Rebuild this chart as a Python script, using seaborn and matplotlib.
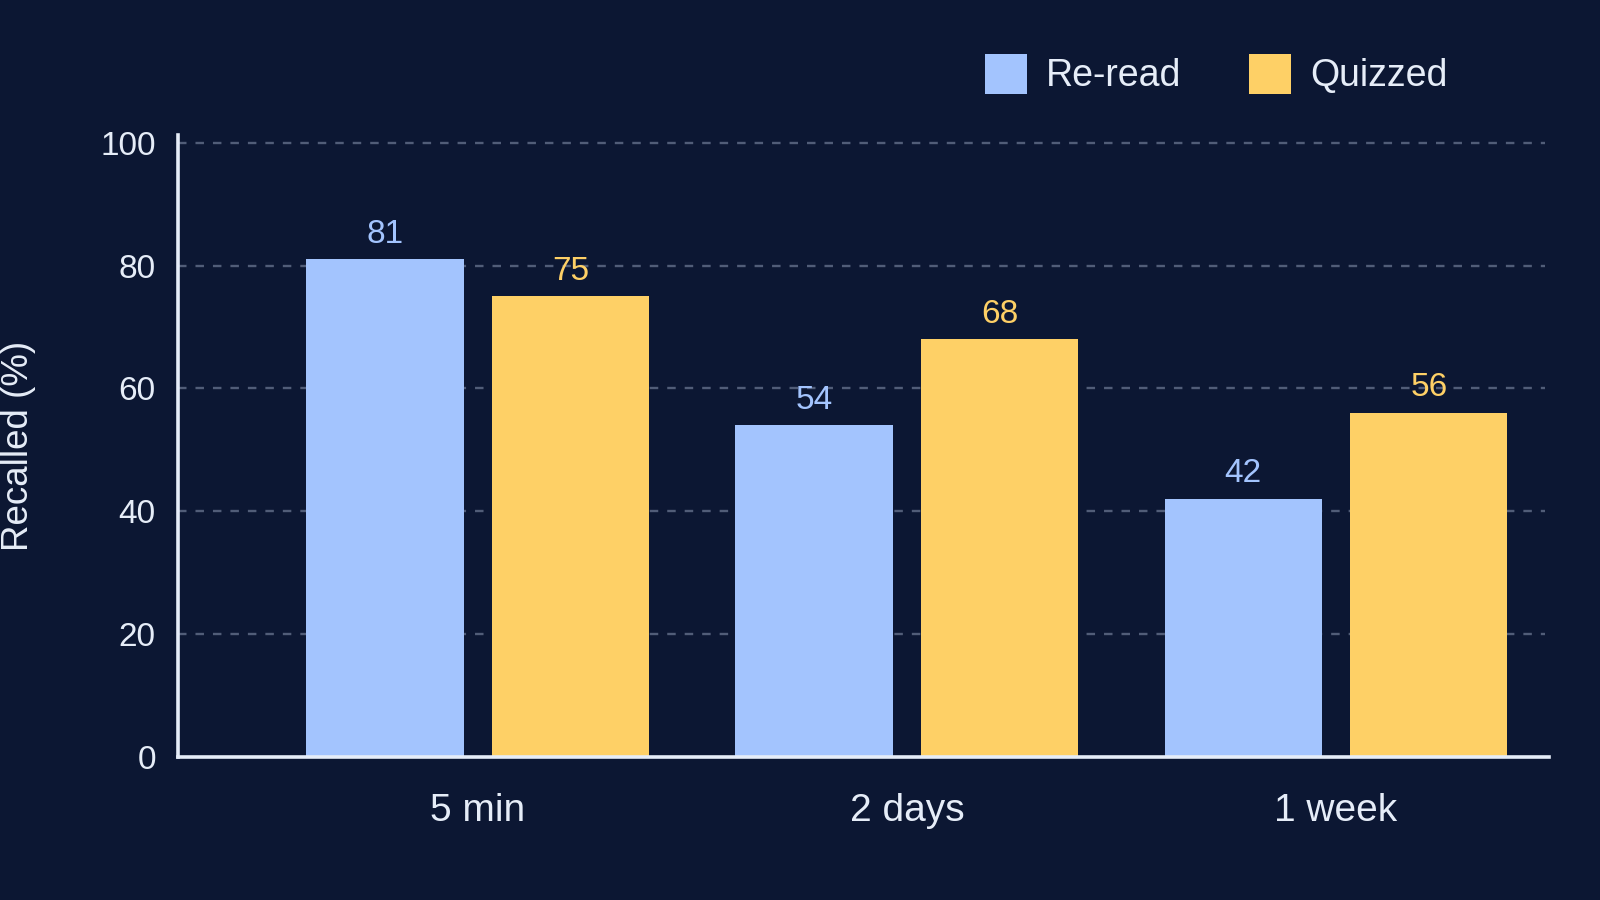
import matplotlib
matplotlib.use("Agg")
import matplotlib.pyplot as plt
import seaborn as sns
import pandas as pd

# ---- data ----
delays = ["5 min", "2 days", "1 week"]
reread = [81, 54, 42]
quizzed = [75, 68, 56]
series_names = ["Re-read", "Quizzed"]
y_ticks = [0, 20, 40, 60, 80, 100]

BG = "#0c1733"
FG = "#e6edf8"
C_RE = "#a3c4fe"
C_QZ = "#fed066"
GRID = "#515d78"

df = pd.DataFrame({
    "Delay": delays * 2,
    "Recalled": reread + quizzed,
    "Condition": [series_names[0]] * len(delays) + [series_names[1]] * len(delays),
})

sns.set_theme(style="dark")
plt.rcParams["font.family"] = ["Liberation Sans", "DejaVu Sans"]

fig = plt.figure(figsize=(16, 9), dpi=100, facecolor=BG)
ax = fig.add_axes([178 / 1600, 1 - 757 / 900, (1549 - 178) / 1600, (757 - 135) / 900])
ax.set_facecolor(BG)

sns.barplot(data=df, x="Delay", y="Recalled", hue="Condition",
            order=delays, hue_order=series_names,
            palette=[C_RE, C_QZ], width=0.866, gap=0.154,
            saturation=1, linewidth=0, ax=ax, zorder=3)

ax.set_ylim(0, 101.25)
ax.set_xlim(-0.699, 2.4965)
ax.set_yticks(y_ticks)

# dashed guide lines (stop a little short of the axis end)
ax.grid(False)
for yv in y_ticks[1:]:
    ax.axhline(yv, xmin=0, xmax=0.997, color=GRID, linewidth=1.7,
               linestyle=(0, (3.6, 3.8)), zorder=0)

# spines
for s in ["top", "right"]:
    ax.spines[s].set_visible(False)
for s in ["left", "bottom"]:
    ax.spines[s].set_visible(True)
    ax.spines[s].set_color(FG)
    ax.spines[s].set_linewidth(2.6)
    ax.spines[s].set_zorder(5)

ax.tick_params(axis="y", length=0, pad=16, labelsize=24, labelcolor=FG)
ax.tick_params(axis="x", length=0, pad=26, labelsize=28, labelcolor=FG)

ax.set_xlabel("")
ax.set_ylabel("Recalled (%)", fontsize=26.5, color=FG)
ax.yaxis.set_label_coords(-0.1036, 0.5)

# value labels
for cont, col in zip(ax.containers, [C_RE, C_QZ]):
    ax.bar_label(cont, labels=[f"{v:.0f}" for v in cont.datavalues],
                 padding=7, color=col, fontsize=24, zorder=6)

# legend
handles, labels = ax.get_legend_handles_labels()
if ax.get_legend() is not None:
    ax.get_legend().remove()
leg = fig.legend(handles, labels, loc="center", bbox_to_anchor=(1216 / 1600, 1 - 74 / 900),
                 ncol=2, frameon=False, fontsize=27, handlelength=1.13, handleheight=1.29,
                 handletextpad=0.5, columnspacing=1.8, labelcolor=FG)

fig.savefig("out.png", dpi=100, facecolor=BG)
